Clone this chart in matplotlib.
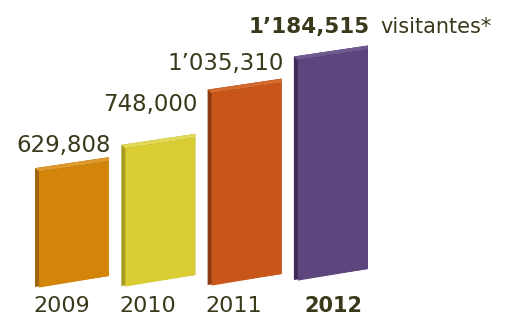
import matplotlib.pyplot as plt
from matplotlib.patches import Polygon

anios = ['2009', '2010', '2011', '2012']
visitantes = [629808, 748000, 1035310, 1184515]
sufijo = 'visitantes*'

# colores: cara frontal, cara lateral, cara superior
frente = ['#D3850A', '#D9CD33', '#C85619', '#5C467D']
lado = ['#A0640E', '#A89D22', '#8E3B13', '#3E2C58']
arriba = ['#DE9A2C', '#E2D955', '#D46A2E', '#6E5990']
color_texto = '#3A391C'

# escala: unidades por pixel
px_x = 1 / 86.3
px_y = 5300

ancho = 74 * px_x
subida = 11 * px_y   # inclinacion de la cara frontal
grosor = 4           # grosor de caras lateral/superior en px
base_px = [0, 1, 2, 7]          # pequeño desplazamiento de la base por barra
etiqueta_px = [135, 176, 217, 254]  # altura de las etiquetas sobre la linea base

fig = plt.figure(figsize=(5.18, 3.17), dpi=100)
ax = fig.add_axes([0, 0, 1, 1])
ax.set_xlim(-72 * px_x, 446 * px_x)
ax.set_ylim(-30 * px_y, 287 * px_y)
ax.axis('off')

for i, v in enumerate(visitantes):
    L = i - ancho / 2
    R = i + ancho / 2
    B = base_px[i] * px_y
    T = B + v
    s = grosor * px_x
    t = grosor * px_y
    k = subida / ancho  # pendiente

    # cara lateral (toda la silueta)
    ax.add_patch(Polygon([(L, B), (R, B + subida), (R, T + subida), (L, T)],
                         closed=True, fc=lado[i], ec='none'))
    # cara superior
    ax.add_patch(Polygon([(L + s, T - t + k * s), (R, T + subida - t),
                          (R, T + subida), (L, T)],
                         closed=True, fc=arriba[i], ec='none'))
    # cara frontal
    ax.add_patch(Polygon([(L + s, B + k * s - t * 0.3), (R, B + subida),
                          (R, T + subida - t), (L + s, T - t + k * s)],
                         closed=True, fc=frente[i], ec='none'))

    texto = f'{v:,}'
    if v >= 1000000:
        texto = texto.replace(',', '\u2019', 1)
    negrita = i == len(visitantes) - 1
    ax.text(R + 2 * px_x, etiqueta_px[i] * px_y, texto, ha='right', va='baseline',
            fontsize=15.5 if negrita else 16.5, color=color_texto,
            fontweight='bold' if negrita else 'normal')
    if negrita:
        ax.text(R + 12 * px_x, etiqueta_px[i] * px_y, sufijo, ha='left',
                va='baseline', fontsize=15, color=color_texto)

    if negrita:
        ax.text(i + 2 * px_x, -25 * px_y, anios[i], ha='center', va='baseline',
                fontsize=15, fontweight='bold', color=color_texto)
    else:
        ax.text(L - 2 * px_x, -25 * px_y, anios[i], ha='left', va='baseline',
                fontsize=16, color=color_texto)

fig.savefig('out.png', dpi=100)
